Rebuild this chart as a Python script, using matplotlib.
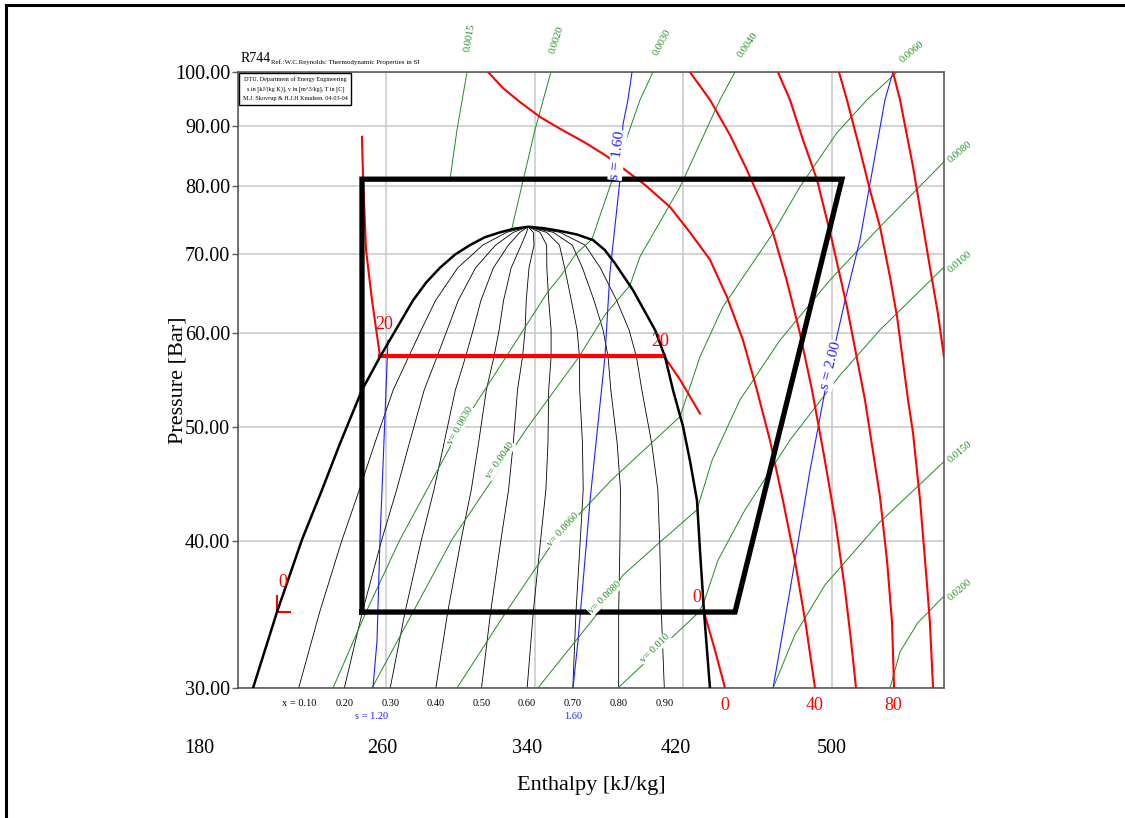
import numpy as np
import matplotlib
matplotlib.use("Agg")
import matplotlib.pyplot as plt
from matplotlib.lines import Line2D
from matplotlib.transforms import blended_transform_factory

plt.rcParams['font.family'] = ['Liberation Serif', 'DejaVu Serif']

# ---------------- data (h in kJ/kg, p in bar) ----------------
dome_h = [188.1, 201.0, 214.5, 225.3, 235.0, 246.8, 256.5, 274.3, 281.5, 288.8, 297.0, 305.0, 313.0, 321.2, 328.5, 336.3,
          344.5, 353.5, 362.5, 371.3, 377.7, 383.1, 392.8, 404.7, 410.1, 414.4, 419.8, 423.5, 427.3, 428.9, 431.1, 434.3]
dome_p = [30.0, 34.8, 40.1, 44.2, 48.4, 53.7, 57.3, 64.0, 66.3, 68.2, 70.0, 71.3, 72.4, 73.1, 73.6, 73.9,
          73.7, 73.3, 72.8, 72.0, 70.6, 68.8, 65.3, 60.4, 57.3, 53.7, 50.0, 46.8, 43.3, 39.3, 34.8, 30.0]

qual_p = [30.0, 34.8, 40.0, 44.2, 48.4, 53.7, 57.3, 60.4, 64.0, 68.2, 71.3, 73.1, 73.9]
qual_labels = ["x = 0.10", "0.20", "0.30", "0.40", "0.50", "0.60", "0.70", "0.80", "0.90"]
x10_h = [212.7, 224.0, 235.9, 245.4, 253.7, 263.6, 271.9, 278.7, 286.5, 298.4, 311.9, 324.8, 336.3]
x20_h = [237.3, 247.0, 257.3, 265.5, 272.3, 280.3, 287.2, 292.7, 298.7, 308.0, 318.8, 328.4, 336.3]
x30_h = [262.0, 270.0, 278.7, 285.6, 291.0, 297.1, 302.6, 306.7, 310.9, 317.6, 325.7, 331.9, 336.3]
x40_h = [286.6, 293.0, 300.1, 305.7, 309.6, 313.8, 317.9, 320.7, 323.1, 327.2, 332.6, 335.5, 336.3]
x50_h = [311.2, 316.1, 321.6, 325.8, 328.3, 330.6, 333.3, 334.7, 335.3, 336.8, 339.5, 339.1, 336.3]
x60_h = [335.8, 339.1, 343.0, 345.9, 347.0, 347.4, 348.7, 348.7, 347.4, 346.4, 346.3, 342.7, 336.3]
x70_h = [360.4, 362.1, 364.4, 366.0, 365.6, 364.1, 364.0, 362.7, 359.6, 356.0, 353.2, 346.3, 336.3]
x80_h = [385.1, 385.1, 385.8, 386.1, 384.3, 380.9, 379.4, 376.7, 371.8, 365.6, 360.1, 349.8, 336.3]
x90_h = [409.7, 408.1, 407.2, 406.2, 402.9, 397.6, 394.7, 390.7, 384.0, 375.2, 367.0, 353.4, 336.3]

# cycle
cycle_h = [246.8, 246.8, 505.4, 447.8, 246.8]
cycle_p = [34.8, 81.1, 81.1, 34.8, 34.8]

# isotherms (deg C)
t20_liq_h = [246.8, 247.4, 249.0, 252.2, 256.5]
t20_liq_p = [88.1, 81.0, 70.6, 64.0, 57.4]
t20_sat_h = [256.5, 409.5]
t20_sat_p = [57.4, 57.4]
t20_vap_h = [409.5, 418.2, 428.9]
t20_vap_p = [57.4, 54.8, 51.3]
t0_liq_h = [201.0, 201.0, 208.0]
t0_liq_p = [35.9, 34.8, 34.8]
t0_vap_h = [431.1, 437.0, 442.4]
t0_vap_p = [34.8, 32.3, 30.0]
t40_h = [314.7, 322.8, 331.9, 342.7, 353.5, 367.0, 378.3, 388.5, 399.3, 412.8, 423.5, 434.3, 443.5,
         452.1, 459.6, 466.6, 473.6, 480.1, 486.0, 490.9]
t40_p = [100.0, 96.9, 94.3, 91.6, 89.5, 87.1, 84.9, 82.6, 80.2, 76.8, 73.1, 69.3, 64.4,
         59.2, 53.7, 48.7, 43.3, 38.5, 33.9, 30.0]
t60_h = [423.5, 434.3, 445.1, 454.2, 461.3, 468.3, 475.6, 482.8, 489.3, 495.7, 501.7, 507.1, 510.3, 513.0]
t60_p = [100.0, 94.7, 88.4, 82.6, 77.9, 73.0, 66.6, 60.0, 53.7, 47.3, 41.7, 36.3, 32.9, 30.0]
t80_h = [470.9, 477.4, 484.4, 492.0, 500.0, 508.1, 517.8, 525.9, 529.7, 532.4, 533.5]
t80_p = [100.0, 94.7, 87.6, 81.0, 72.0, 63.2, 52.7, 43.6, 38.5, 34.1, 30.0]
t100_h = [503.8, 508.1, 515.1, 520.5, 525.9, 531.3, 535.1, 541.0, 543.7, 547.5, 551.2, 552.8, 554.5]
t100_p = [100.0, 94.7, 85.9, 79.4, 73.9, 67.0, 62.0, 52.7, 49.4, 43.3, 36.8, 34.1, 30.0]
t120_h = [532.9, 536.7, 543.7, 552.8, 557.1, 560.4]
t120_p = [100.0, 94.7, 83.1, 68.3, 62.4, 57.3]

# isentropes kJ/(kg K)
s120_h = [252.7, 254.9, 256.5, 258.1, 260.8]
s120_p = [30.0, 32.9, 40.1, 46.2, 59.2]
s160_h = [360.5, 363.2, 369.7, 377.7, 380.4, 385.8, 387.4, 390.1, 392.3]
s160_p = [30.0, 32.9, 43.3, 57.3, 67.5, 81.0, 90.2, 94.7, 100.0]
s200_h = [468.3, 477.4, 488.2, 497.4, 507.1, 515.1, 528.6, 532.9]
s200_p = [30.0, 36.3, 45.9, 54.8, 64.0, 72.0, 94.7, 100.0]

# isochores m3/kg
v0015_h = [303.4, 298.0, 294.2]
v0015_p = [100.0, 89.3, 81.0]
v0020_h = [348.6, 340.0, 327.6]
v0020_p = [100.0, 89.3, 73.7]
v0030_h = [403.6, 396.6, 382.1, 370.7, 362.1, 353.5, 347.0, 324.4, 300.2, 267.3, 249.0, 231.2]
v0030_p = [100.0, 94.7, 81.4, 72.1, 70.1, 67.0, 65.1, 57.3, 50.0, 40.1, 34.8, 30.0]
v0040_h = [447.8, 439.7, 418.2, 396.6, 391.2, 377.7, 363.7, 336.3, 295.3, 274.3, 252.2]
v0040_p = [100.0, 94.7, 79.9, 69.7, 65.9, 62.2, 57.3, 50.0, 40.1, 34.8, 30.0]
v0060_h = [535.1, 518.9, 502.7, 482.8, 468.3, 441.3, 428.9, 418.2, 381.0, 350.8, 324.4, 298.0]
v0060_p = [100.0, 94.7, 88.8, 79.9, 73.0, 63.2, 57.3, 51.0, 45.0, 40.1, 34.8, 30.0]
v0080_h = [560.4, 525.9, 499.0, 472.0, 450.5, 435.4, 427.3, 407.4, 387.4, 375.0, 341.6]
v0080_p = [83.9, 73.9, 66.6, 59.2, 52.7, 46.8, 42.5, 39.9, 37.4, 34.9, 30.0]
v0100_h = [560.4, 525.9, 504.4, 477.4, 453.2, 438.6, 431.1, 428.4, 407.4, 384.7]
v0100_p = [68.3, 60.4, 55.3, 48.7, 42.5, 38.5, 35.5, 34.8, 32.4, 30.0]
v0150_h = [560.4, 525.9, 496.3, 480.1, 468.3]
v0150_p = [46.7, 41.5, 36.7, 33.3, 30.0]
v0200_h = [560.4, 546.4, 536.7, 531.3]
v0200_p = [35.9, 34.1, 32.2, 30.0]

y_ticks = [30, 40, 50, 60, 70, 80, 90, 100]
x_grid = [180, 260, 340, 420, 500]
x_tick_labels = ["180", "260", "340", "420", "500"]
x_tick_label_pos = [159.0, 257.6, 335.7, 416.0, 500.0]

RED = '#ff0000'
GREEN = '#1e8c1e'
BLUE = '#2020ff'

# ---------------- figure ----------------
fig = plt.figure(figsize=(11.25, 8.18), dpi=100)
ax = fig.add_axes([238/1125, 1-688/818, (944-238)/1125, (688-72)/818])
ax.set_yscale('log')
ax.set_xlim(180, 560.4)
ax.set_ylim(30, 100)
ax.set_yticks(y_ticks)
ax.set_yticklabels([f"{v:.2f}" for v in y_ticks], fontsize=14.5)
ax.yaxis.set_minor_locator(matplotlib.ticker.NullLocator())
ax.set_xticks(x_grid)
ax.set_xticklabels([])
ax.tick_params(axis='x', length=0)
ax.tick_params(axis='y', length=4, width=1, color='#606060', pad=1.5)
ax.grid(True, color='#c8c8c8', lw=1.1, zorder=0)
ax.set_axisbelow(True)
for sp in ax.spines.values():
    sp.set_color('#505050')
    sp.set_linewidth(1.1)

tb = blended_transform_factory(ax.transData, ax.transAxes)
for lab, xp in zip(x_tick_labels, x_tick_label_pos):
    ax.text(xp, -0.098, lab, transform=tb, ha='center', va='center', fontsize=14.5)

ax.text(-0.085, 0.5, "Pressure [Bar]", transform=ax.transAxes, rotation=90,
        ha='center', va='center', fontsize=16)
ax.text(0.5, -0.158, "Enthalpy [kJ/kg]", transform=ax.transAxes, ha='center', va='center', fontsize=16)

# quality lines
for hs in [x10_h, x20_h, x30_h, x40_h, x50_h, x60_h, x70_h, x80_h, x90_h]:
    ax.plot(hs, qual_p, color='black', lw=0.6, zorder=2)
for hs, lab in zip([x10_h, x20_h, x30_h, x40_h, x50_h, x60_h, x70_h, x80_h, x90_h], qual_labels):
    ax.text(hs[0], 29.1, lab, ha='center', va='center', fontsize=7.5)

# isochores
for hs, ps in [(v0015_h, v0015_p), (v0020_h, v0020_p), (v0030_h, v0030_p), (v0040_h, v0040_p),
               (v0060_h, v0060_p), (v0080_h, v0080_p), (v0100_h, v0100_p), (v0150_h, v0150_p),
               (v0200_h, v0200_p)]:
    ax.plot(hs, ps, color=GREEN, lw=0.7, zorder=3)

gkw = dict(color=GREEN, fontsize=7.5, ha='center', va='center', clip_on=False, zorder=8)
ax.text(305.0, 106.9, "0.0015", rotation=80, **gkw)
ax.text(351.9, 106.4, "0.0020", rotation=72, **gkw)
ax.text(408.4, 106.0, "0.0030", rotation=62, **gkw)
ax.text(454.8, 105.4, "0.0040", rotation=55, **gkw)
ax.text(543.1, 104.0, "0.0060", rotation=40, **gkw)
ax.text(569.0, 85.5, "0.0080", rotation=40, **gkw)
ax.text(569.0, 69.0, "0.0100", rotation=40, **gkw)
ax.text(569.0, 47.6, "0.0150", rotation=40, **gkw)
ax.text(569.0, 36.3, "0.0200", rotation=40, **gkw)
ibox = dict(facecolor='white', edgecolor='none', pad=0.5)
ax.text(299.6, 50.1, "v= 0.0030", rotation=60, bbox=ibox, **gkw)
ax.text(321.2, 46.8, "v= 0.0040", rotation=55, bbox=ibox, **gkw)
ax.text(355.1, 40.85, "v= 0.0060", rotation=48, bbox=ibox, **gkw)
ax.text(377.7, 35.8, "v= 0.0080", rotation=45, bbox=ibox, **gkw)
ax.text(404.7, 32.4, "v= 0.010", rotation=45, bbox=ibox, **gkw)

# isentropes
for hs, ps in [(s120_h, s120_p), (s160_h, s160_p), (s200_h, s200_p)]:
    ax.plot(hs, ps, color=BLUE, lw=0.8, zorder=4)
bkw = dict(color=BLUE, ha='center', va='center', zorder=9)
ax.text(384.5, 85.0, "s = 1.60", rotation=83, fontsize=11, bbox=dict(facecolor='white', edgecolor='none', pad=0.5), **bkw)
ax.text(499.5, 56.3, "s = 2.00", rotation=75, fontsize=11, bbox=dict(facecolor='white', edgecolor='none', pad=0.5), **bkw)
ax.text(252.2, 28.35, "s = 1.20", fontsize=7.5, **bkw)
ax.text(360.5, 28.35, "1.60", fontsize=7.5, **bkw)

# isotherms
rkw = dict(color=RED, lw=1.5, zorder=5)
for hs, ps in [(t20_liq_h, t20_liq_p), (t20_vap_h, t20_vap_p), (t0_liq_h, t0_liq_p), (t0_vap_h, t0_vap_p),
               (t40_h, t40_p), (t60_h, t60_p), (t80_h, t80_p), (t100_h, t100_p), (t120_h, t120_p)]:
    ax.plot(hs, ps, **rkw)
ax.plot(t20_sat_h, t20_sat_p, color=RED, lw=3.0, zorder=6)
tkw = dict(color=RED, ha='center', va='center', fontsize=13, zorder=9)
ax.text(204.2, 36.9, "0", **tkw)
ax.text(427.3, 35.8, "0", **tkw)
ax.text(258.7, 61.0, "20", **tkw)
ax.text(407.4, 59.0, "20", **tkw)
for lab, hx in [("0", 442.4), ("40", 490.9), ("80", 532.9)]:
    ax.text(hx, 29.0, lab, **tkw)

# saturation dome
ax.plot(dome_h, dome_p, color='black', lw=1.8, zorder=6, solid_joinstyle='round')

# cycle
ax.plot(cycle_h, cycle_p, color='black', lw=3.8, zorder=7, solid_joinstyle='miter')

# titles
ax.text(0.003, 1.012, "R744", transform=ax.transAxes, fontsize=10, ha='left', va='bottom')
ax.text(0.047, 1.012, "Ref.:W.C.Reynolds: Thermodynamic Properties in SI", transform=ax.transAxes,
        fontsize=5, ha='left', va='bottom')
ax.text(0.007, 0.993,
        "DTU, Department of Energy Engineering\ns in [kJ/(kg K)], v in [m^3/kg], T in [C]\nM.J. Skovrup & H.J.H Knudsen. 04-03-04",
        transform=ax.transAxes, fontsize=4.4, ha='left', va='top', linespacing=2.0, multialignment='center',
        bbox=dict(facecolor='white', edgecolor='black', lw=1.0, boxstyle='square,pad=0.6'), zorder=10)

# outer frame
fig.add_artist(Line2D([6/1125, 6/1125], [0, 1-5/818], transform=fig.transFigure, color='black', lw=2.2))
fig.add_artist(Line2D([6/1125, 1], [1-5/818, 1-5/818], transform=fig.transFigure, color='black', lw=2.2))

fig.savefig("out.png", dpi=100)
